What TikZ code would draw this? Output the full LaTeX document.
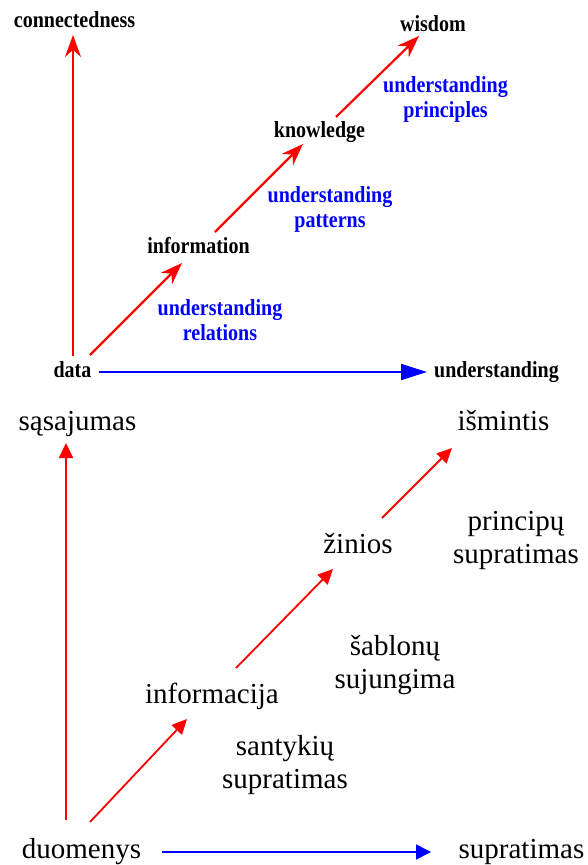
\documentclass[tikz,border=0pt]{standalone}
\usepackage{fontspec}
\setmainfont{Liberation Serif}
% narrow, tall bold face for the upper chart
\newfontfamily\narrowbold{Liberation Serif}[FakeStretch=0.87]
\usetikzlibrary{arrows.meta}
\definecolor{linkred}{RGB}{255,0,0}
\definecolor{linkblue}{RGB}{0,0,255}
\begin{document}
\begin{tikzpicture}[x=1pt,y=-1pt,
  toplbl/.style={inner sep=0pt,anchor=base,align=center,
    font=\narrowbold\fontsize{23}{25}\selectfont\bfseries},
  topnote/.style={toplbl,text=linkblue},
  toplink/.style={draw=linkred,line width=2.2pt,-{Stealth[length=22pt,width=16pt]}},
  topaxis/.style={draw=linkblue,line width=2pt,-{Triangle[length=26pt,width=16pt]}},
  botlbl/.style={inner sep=0pt,anchor=base,align=center,
    font=\fontsize{29}{33}\selectfont},
  botlink/.style={draw=linkred,line width=1.8pt,-{Triangle[length=15pt,width=14pt]}},
  botaxis/.style={draw=linkblue,line width=1.8pt,-{Triangle[length=15pt,width=15pt]}}]
\useasboundingbox (0,0) rectangle (587,865);

% upper chart: English labels (two-line notes are placed by their last baseline)
\node[toplbl] (conn) at (74.5,27) {connectedness};
\node[toplbl] (data) at (72.5,377) {data};
\node[toplbl] (und) at (496.5,377) {understanding};
\node[toplbl] (info) at (198.5,253) {information};
\node[toplbl] (know) at (319.5,137) {knowledge};
\node[toplbl] (wis) at (433,31) {wisdom};
\node[topnote] (rel) at (220,340) {understanding\\relations};
\node[topnote] (pat) at (330,227) {understanding\\patterns};
\node[topnote] (pri) at (445.5,117) {understanding\\principles};

% upper chart: connectors
\draw[toplink] ([shift={(0.5,-21)}]data.base) -- ([shift={(-1.5,8)}]conn.base);
\draw[topaxis] ([shift={(26.5,-5)}]data.base) -- ([shift={(-69.5,-5)}]und.base);
\draw[toplink] ([shift={(17.5,-22)}]data.base) -- ([shift={(-16.5,10)}]info.base);
\draw[toplink] ([shift={(16.5,-21)}]info.base) -- ([shift={(-16.5,7)}]know.base);
\draw[toplink] ([shift={(16.5,-20)}]know.base) -- ([shift={(-14,5)}]wis.base);

% lower chart: Lithuanian labels
\node[botlbl] (sas) at (77.5,430) {sąsajumas};
\node[botlbl] (ism) at (503.5,430) {išmintis};
\node[botlbl] (zin) at (358,553) {žinios};
\node[botlbl] (inf) at (212,703) {informacija};
\node[botlbl] (duo) at (81.5,858) {duomenys};
\node[botlbl] (sup) at (521.5,858) {supratimas};
\node[botlbl] (prs) at (516,563) {principų\\supratimas};
\node[botlbl] (sab) at (395,688) {šablonų\\sujungima};
\node[botlbl] (san) at (285,788) {santykių\\supratimas};

% lower chart: connectors
\draw[botlink] ([shift={(-15.5,-38)}]duo.base) -- ([shift={(-11.5,13)}]sas.base);
\draw[botaxis] ([shift={(80.5,-6)}]duo.base) -- ([shift={(-90.5,-6)}]sup.base);
\draw[botlink] ([shift={(8.5,-36)}]duo.base) -- ([shift={(-25,16)}]inf.base);
\draw[botlink] ([shift={(24,-35)}]inf.base) -- ([shift={(-25,16)}]zin.base);
\draw[botlink] ([shift={(24,-35)}]zin.base) -- ([shift={(-51.5,18)}]ism.base);
\end{tikzpicture}
\end{document}
